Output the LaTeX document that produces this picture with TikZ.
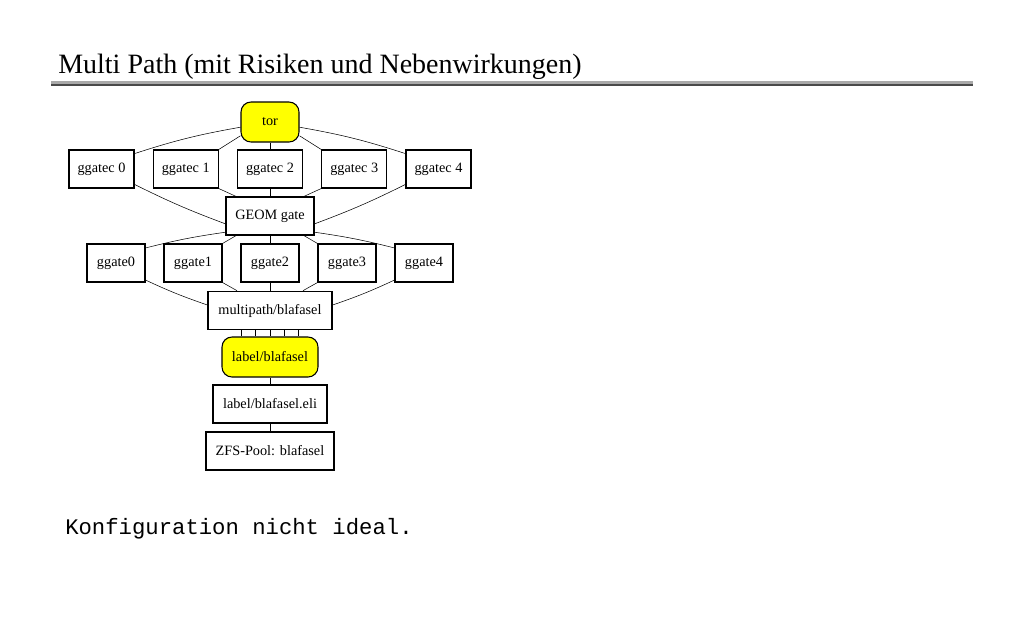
\documentclass[tikz,border=0pt]{standalone}
\usepackage{fontspec}
\setmainfont{Liberation Serif}
\setmonofont{Liberation Mono}
\usepackage{tikz}
\usetikzlibrary{backgrounds}
\definecolor{pool-yellow}{HTML}{FFFF00}
\definecolor{rule-gray}{HTML}{A9A9A9}
\definecolor{rule-dark}{HTML}{4A4A4A}
\tikzset{
  gbox/.style={draw, line width=0.8pt, inner sep=0pt, minimum height=28.5pt,
    font=\fontsize{10.7}{12}\selectfont},
  ghub/.style={gbox, fill=pool-yellow, rounded corners=7.5pt, minimum height=30pt},
  gedge/.style={line width=0.8pt},
}

\begin{document}
\begin{tikzpicture}[x=0.75pt, y=-0.75pt]
    \useasboundingbox (0,0) rectangle (1024,640);

    % Title and rule
    \node[anchor=base west, inner sep=0pt, font=\fontsize{21}{24}\selectfont] (title)
        at (58,73) {Multi Path (mit Risiken und Nebenwirkungen)};
    \fill[rule-gray] (51,81) rectangle (973,84);
    \fill[rule-dark] (51,84) rectangle (973,85.5);

    % Nodes, top to bottom
    \node[ghub, minimum width=43.5pt] (tor) at (270,122) {tor};
    \foreach \i in {0,...,4} {
        \node[gbox, minimum width=48.75pt] (gc\i) at ({270+84.25*(\i-2)},169) {ggatec \i};
    }
    \node[gbox, minimum width=66pt] (geom) at (270,216) {GEOM gate};
    \foreach \i in {0,...,4} {
        \node[gbox, minimum width=43.5pt] (g\i) at ({270+77*(\i-2)},263) {ggate\i};
    }
    \node[gbox, minimum width=93pt, minimum height=29pt] (mp) at (270,310.5) {multipath/blafasel};
    \node[ghub, minimum width=72pt] (lbl) at (270,357) {label/blafasel};
    \node[gbox, minimum width=85.5pt] (eli) at (270,404) {label/blafasel.eli};
    \node[gbox, minimum width=96pt] (pool) at (270,451) {ZFS-Pool: blafasel};

    % Edges, behind the boxes
    \begin{scope}[on background layer, gedge]
        % tor to the ggatec row
        \draw (tor.190) to[bend right=4] (gc0.25);
        \draw (tor.205) -- (gc1.north east);
        \draw (tor) -- (gc2);
        \draw (tor.335) -- (gc3.north west);
        \draw (tor.350) to[bend left=4] (gc4.155);

        % ggatec row to GEOM gate
        \draw (gc0.-25) to[bend right=3] (geom.190);
        \draw (gc1.south east) -- (geom.150);
        \draw (gc2) -- (geom);
        \draw (gc3.south west) -- (geom.30);
        \draw (gc4.205) to[bend left=3] (geom.350);

        % GEOM gate to the ggate row
        \draw (geom.200) to[bend right=3] (g0.27);
        \draw (geom.210) -- (g1.north east);
        \draw (geom) -- (g2);
        \draw (geom.330) -- (g3.north west);
        \draw (geom.340) to[bend left=3] (g4.153);

        % ggate row to multipath
        \draw (g0.-30) to[bend right=3] (mp.175);
        \draw (g1.south east) -- (mp.149);
        \draw (g2) -- (mp);
        \draw (g3.south west) -- (mp.31);
        \draw (g4.210) to[bend left=3] (mp.5);

        % five paths down to the label, then the chain
        \foreach \dx in {-28.5,-14.25,0,14.25,28.5} {
            \draw ([shift={(\dx,0)}]mp.south) -- ([shift={(\dx,0)}]lbl.north);
        }
        \draw (lbl) -- (eli);
        \draw (eli) -- (pool);
    \end{scope}

    % Remark
    \node[anchor=base west, inner sep=0pt, font=\ttfamily\fontsize{16.7}{20}\selectfont] (note)
        at (65,534) {Konfiguration nicht ideal.};
\end{tikzpicture}
\end{document}
